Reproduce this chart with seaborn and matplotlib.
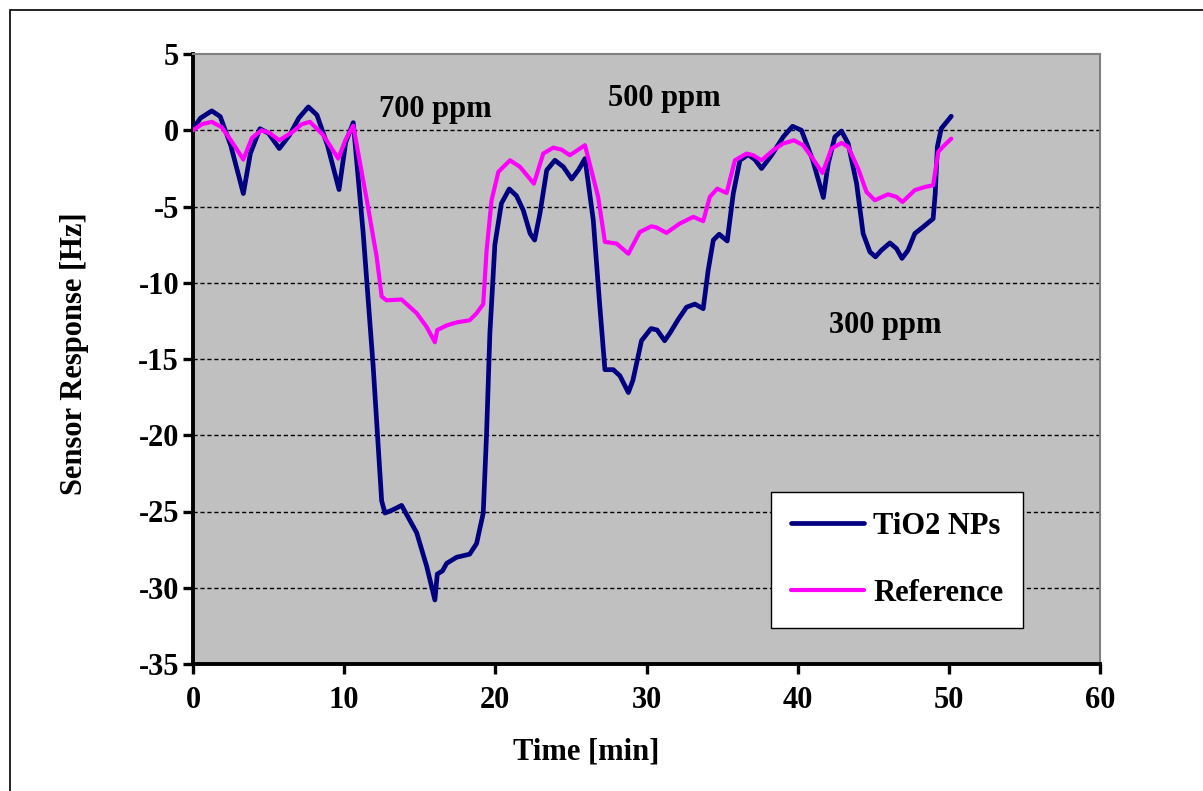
import matplotlib
matplotlib.use("Agg")
import matplotlib.pyplot as plt
from matplotlib.patches import Rectangle
from matplotlib.lines import Line2D
import seaborn as sns
import pandas as pd

tio2_t = [0, 0.5, 1.24, 1.8, 2.5, 3.33, 3.8, 4.43, 5.0, 5.71, 6.4, 7.0, 7.63, 8.2, 8.9, 9.66,
          10.1, 10.6, 11.26, 11.92, 12.48, 12.7, 13.2, 13.8, 14.8, 15.46, 16.0, 16.16, 16.5,
          16.78, 17.44, 18.3, 18.76, 19.2, 19.42, 19.64, 19.97, 20.4, 20.92, 21.4, 21.85,
          22.3, 22.6, 22.95, 23.4, 23.94, 24.5, 25.05, 25.5, 25.93, 26.48, 26.9, 27.25, 27.8,
          28.24, 28.8, 29.1, 29.67, 30.3, 30.7, 31.2, 31.55, 32.1, 32.65, 33.2, 33.75, 34.08,
          34.42, 34.81, 35.34, 35.74, 36.18, 36.73, 37.17, 37.61, 38.27, 39.04, 39.66, 40.25,
          41.0, 41.7, 42.02, 42.46, 42.9, 43.34, 43.9, 44.33, 44.78, 45.15, 45.54, 46.1,
          46.54, 46.9, 47.3, 47.75, 48.3, 48.96, 49.1, 49.24, 49.5, 50.16]
tio2_y = [0.1, 0.8, 1.27, 0.9, -1.0, -4.15, -1.5, 0.1, -0.2, -1.2, -0.3, 0.8, 1.53, 1.0, -1.0, -3.89,
          -0.8, 0.5, -6.77, -15.5, -24.3, -25.1, -24.9, -24.6, -26.4, -28.6, -30.8, -29.1, -28.9,
          -28.4, -28.0, -27.8, -27.1, -25.1, -19.9, -13.3, -7.5, -4.8, -3.85, -4.3, -5.25,
          -6.77, -7.2, -5.46, -2.62, -1.97, -2.4, -3.2, -2.6, -1.86, -5.9, -11.4, -15.7, -15.7,
          -16.1, -17.2, -16.4, -13.8, -13.0, -13.1, -13.8, -13.3, -12.4, -11.6, -11.4, -11.7, -9.18,
          -7.2, -6.82, -7.26, -4.15, -1.97, -1.6, -1.92, -2.51, -1.64, -0.44, 0.26, 0.0,
          -1.97, -4.41, -2.18, -0.44, -0.05, -0.87, -3.5, -6.77, -7.98, -8.3, -7.87, -7.39,
          -7.76, -8.4, -7.87, -6.77, -6.34, -5.8, -4.15, -1.09, 0.11, 0.92]

ref_t = [0, 0.6, 1.24, 1.9, 2.6, 3.33, 3.9, 4.54, 5.1, 5.71, 6.6, 7.2, 7.74, 8.6, 9.61, 10.1, 10.6,
         11.5, 12.15, 12.48, 12.8, 13.8, 14.8, 15.46, 16.0, 16.16, 16.78, 17.44, 18.3, 18.76,
         19.2, 19.42, 19.75, 20.2, 20.97, 21.63, 22.55, 23.17, 23.83, 24.38, 24.93, 25.93,
         26.8, 27.25, 28.02, 28.8, 29.56, 30.33, 30.67, 31.32, 32.2, 33.1, 33.75, 34.19, 34.68,
         35.3, 35.85, 36.62, 37.06, 37.61, 38.38, 39.04, 39.75, 40.36, 41.0, 41.64, 42.24,
         42.9, 43.34, 44.0, 44.55, 45.1, 45.98, 46.54, 46.93, 47.75, 48.41, 48.96, 49.3,
         49.6, 50.16]
ref_y = [0, 0.4, 0.55, 0.2, -0.8, -1.92, -0.5, 0.0, -0.2, -0.66, -0.1, 0.4, 0.55, -0.3, -1.86, -0.6, 0.3,
         -4.6, -8.3, -10.9, -11.15, -11.1, -12.0, -12.9, -13.9, -13.1, -12.8, -12.6, -12.46, -12.0,
         -11.4, -7.9, -4.6, -2.73, -1.97, -2.4, -3.5, -1.53, -1.14, -1.27, -1.64, -0.98,
         -4.37, -7.32, -7.43, -8.1, -6.67, -6.3, -6.38, -6.73, -6.12, -5.68, -5.96, -4.37, -3.83,
         -4.11, -1.97, -1.53, -1.64, -1.97, -1.31, -0.87, -0.66, -0.98, -1.86, -2.8, -1.2,
         -0.83, -1.09, -2.51, -4.04, -4.59, -4.2, -4.37, -4.7, -3.93, -3.72, -3.61, -1.42,
         -1.09, -0.55]

series_names = ["TiO2 NPs", "Reference"]
series_colors = ["#000080", "#FF00FF"]
series_widths = [3.4, 3.0]
annot_text = ["700 ppm", "500 ppm", "300 ppm"]
annot_x = [16.0, 31.2, 45.8]
annot_y = [1.35, 2.1, -12.8]
x_ticks = [0, 10, 20, 30, 40, 50, 60]
y_ticks = [5, 0, -5, -10, -15, -20, -25, -30, -35]

df = pd.concat([
    pd.DataFrame({"t": tio2_t, "y": tio2_y, "s": series_names[0]}),
    pd.DataFrame({"t": ref_t, "y": ref_y, "s": series_names[1]}),
])

plt.rcParams["font.family"] = ["Liberation Serif", "DejaVu Serif"]
plt.rcParams["font.weight"] = "bold"
plt.rcParams["axes.unicode_minus"] = False

FS = 22
fig = plt.figure(figsize=(12.03, 7.91), dpi=100)
ax = fig.add_axes([193/1203, 1-664/791, (1100-193)/1203, (664-54)/791])
ax.set_facecolor("#C0C0C0")

for y in y_ticks[1:-1]:
    ax.axhline(y, color="black", lw=1.0, ls=(0, (3, 2)), zorder=1)

sns.lineplot(data=df, x="t", y="y", hue="s", palette=dict(zip(series_names, series_colors)),
             sort=False, estimator=None, ax=ax, zorder=3, legend=False)
width_map = {c.lower(): w for c, w in zip(series_colors, series_widths)}
for l in ax.lines:
    c = l.get_color()
    if isinstance(c, str) and c.lower() in width_map:
        l.set_linewidth(width_map[c.lower()])
    l.set_solid_joinstyle("round")
    l.set_solid_capstyle("round")

handles = [Line2D([], [], color=c, lw=w, solid_capstyle="round")
           for c, w in zip(series_colors, series_widths)]
leg = ax.legend(handles, series_names, loc="upper left",
                bbox_to_anchor=((771-193)/907, (664-492)/610), frameon=True,
                fancybox=False, edgecolor="black", facecolor="white", framealpha=1,
                prop={"family": "Liberation Serif", "weight": "bold", "size": FS},
                handlelength=2.4, handletextpad=0.3, labelspacing=1.25,
                borderpad=0.65, borderaxespad=0)
leg.get_frame().set_linewidth(1.0)

for s, xx, yy in zip(annot_text, annot_x, annot_y):
    ax.text(xx, yy, s, ha="center", va="center", fontsize=FS, fontweight="bold", zorder=4)

ax.set_xlim(0, 60)
ax.set_ylim(-35, 5)
ax.set_xticks(x_ticks)
ax.set_yticks(y_ticks)
ax.tick_params(axis="both", direction="out", length=7, width=2.4, labelsize=FS)
ax.tick_params(axis="x", pad=9)
ax.tick_params(axis="y", pad=3)
for lab in ax.get_xticklabels() + ax.get_yticklabels():
    lab.set_fontweight("bold")
ax.grid(False)
for side in ["left", "bottom"]:
    ax.spines[side].set_color("black")
    ax.spines[side].set_linewidth(2.8)
for side in ["top", "right"]:
    ax.spines[side].set_color("#808080")
    ax.spines[side].set_linewidth(1.5)

ax.set_xlabel("Time [min]", fontsize=FS, fontweight="bold")
ax.set_ylabel("Sensor Response [Hz]", fontsize=FS, fontweight="bold")
ax.xaxis.set_label_coords((586-193)/907, -(752-664)/610)
ax.yaxis.set_label_coords((75-193)/907, (664-354)/610)
ax.xaxis.label.set_va("center")
ax.yaxis.label.set_va("center")

fig.patches.append(Rectangle((10/1203, -0.05), 1.2, 1.05 - 10/791, transform=fig.transFigure,
                             fill=False, edgecolor="black", lw=1.2, clip_on=False))

fig.savefig("out.png", dpi=100, facecolor="white")
